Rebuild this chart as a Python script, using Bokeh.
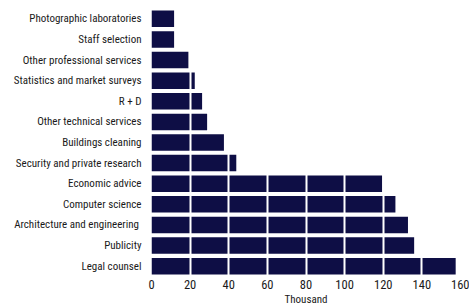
from bokeh.plotting import figure
from bokeh.models import FixedTicker, Range1d
from bokeh.embed import file_html
from bokeh.resources import INLINE

categories = [
    "Photographic laboratories",
    "Staff selection",
    "Other professional services",
    "Statistics and market surveys",
    "R + D",
    "Other technical services",
    "Buildings cleaning",
    "Security and private research",
    "Economic advice",
    "Computer science",
    "Architecture and  engineering",
    "Publicity",
    "Legal counsel",
]
values = [11.7, 11.7, 19.1, 22.4, 26.2, 28.8, 37.5, 43.9, 119.4, 126.3, 132.8, 136.0, 157.5]
x_ticks = [0, 20, 40, 60, 80, 100, 120, 140, 160]
grid_ticks = [20, 40, 60, 80, 100, 120, 140]

FONT = "Roboto Condensed"
TEXT_COLOR = "#1a1a1a"

p = figure(
    y_range=list(reversed(categories)),
    x_range=Range1d(0, 160),
    width=469, height=308,
    output_backend="svg", toolbar_location=None,
    min_border_left=151, min_border_right=9, min_border_top=8, min_border_bottom=31,
    outline_line_color=None,
)

p.hbar(y=categories, right=values, left=0, height=0.8, color="#0e0e45", line_color=None)

p.ygrid.grid_line_color = None
p.xgrid.ticker = FixedTicker(ticks=grid_ticks)
p.xgrid.grid_line_color = "white"
p.xgrid.grid_line_width = 2
p.xgrid.level = "overlay"

p.xaxis.ticker = FixedTicker(ticks=x_ticks)
p.xaxis.axis_line_color = None
p.xaxis.major_tick_line_color = None
p.xaxis.minor_tick_line_color = None
p.xaxis.major_tick_out = 0
p.xaxis.minor_tick_out = 0
p.xaxis.major_label_text_font = FONT
p.xaxis.major_label_text_font_size = "12.5px"
p.xaxis.major_label_text_color = TEXT_COLOR
p.xaxis.major_label_standoff = 3
p.xaxis.axis_label = "Thousand"
p.xaxis.axis_label_text_font = FONT
p.xaxis.axis_label_text_font_size = "11px"
p.xaxis.axis_label_text_font_style = "normal"
p.xaxis.axis_label_text_color = TEXT_COLOR
p.xaxis.axis_label_standoff = 1

p.yaxis.axis_line_color = None
p.yaxis.major_tick_line_color = None
p.yaxis.minor_tick_line_color = None
p.yaxis.major_tick_out = 0
p.yaxis.minor_tick_out = 0
p.yaxis.major_label_text_font = FONT
p.yaxis.major_label_text_font_size = "11px"
p.yaxis.major_label_text_color = TEXT_COLOR
p.yaxis.major_label_standoff = 10

open("out.html", "w").write(file_html(p, INLINE))
